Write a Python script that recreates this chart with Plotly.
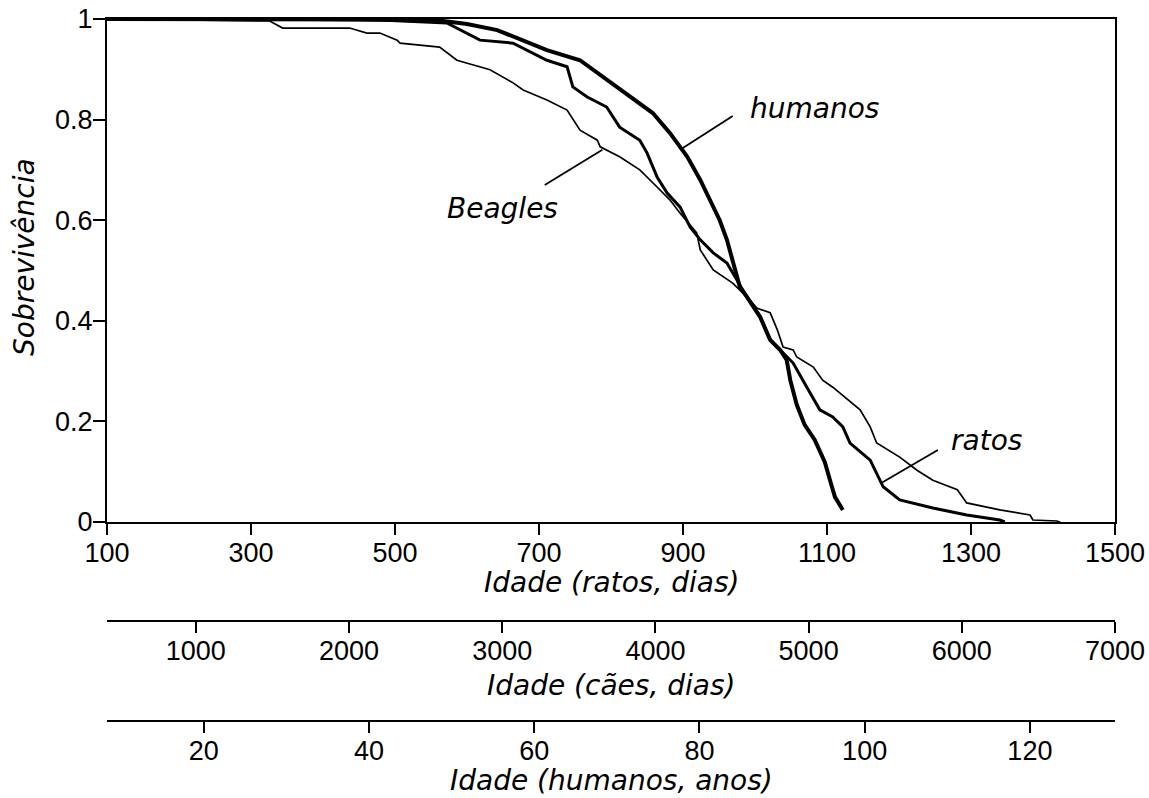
import plotly.graph_objects as go

# ---- data (rat-age days vs survival fraction) ----
hum_days = [100, 300, 450, 562, 600, 642, 711, 757, 794, 826, 858, 882, 906, 924, 942, 951, 961,
            972, 979, 989, 1007, 1021, 1035, 1044, 1049, 1058, 1069, 1083, 1097, 1106, 1111, 1122]
hum_surv = [1.0, 1.0, 0.999, 0.997, 0.99, 0.978, 0.938, 0.918, 0.879, 0.845, 0.813, 0.773, 0.726,
            0.680, 0.626, 0.600, 0.561, 0.501, 0.467, 0.447, 0.408, 0.362, 0.342, 0.322, 0.282,
            0.233, 0.193, 0.163, 0.119, 0.074, 0.050, 0.024]

rat_days = [100, 300, 479, 572, 618, 664, 711, 739, 747, 767, 794, 812, 840, 850, 864, 878, 896,
            910, 924, 942, 961, 975, 989, 1007, 1021, 1035, 1044, 1053, 1072, 1090, 1108, 1122,
            1132, 1160, 1178, 1201, 1247, 1294, 1340, 1347]
rat_surv = [1.0, 1.0, 0.998, 0.992, 0.958, 0.952, 0.918, 0.905, 0.865, 0.845, 0.825, 0.785, 0.759,
            0.734, 0.686, 0.654, 0.626, 0.586, 0.561, 0.535, 0.515, 0.481, 0.447, 0.408, 0.362,
            0.342, 0.328, 0.316, 0.268, 0.223, 0.209, 0.189, 0.157, 0.123, 0.070, 0.044, 0.028,
            0.014, 0.004, 0.0]

beagle_days = [100, 230, 326, 344, 437, 461, 479, 503, 507, 562, 586, 632, 664, 678, 711, 739, 757,
               781, 785, 812, 840, 864, 882, 896, 919, 924, 942, 969, 989, 1003, 1021, 1031, 1039,
               1053, 1058, 1081, 1094, 1108, 1146, 1160, 1169, 1201, 1225, 1247, 1281, 1294, 1340,
               1382, 1386, 1419, 1424]
beagle_surv = [1.0, 0.998, 0.996, 0.982, 0.982, 0.972, 0.972, 0.958, 0.952, 0.944, 0.918, 0.899,
               0.873, 0.859, 0.839, 0.819, 0.779, 0.759, 0.746, 0.726, 0.700, 0.666, 0.640, 0.614,
               0.575, 0.541, 0.501, 0.475, 0.447, 0.425, 0.416, 0.382, 0.348, 0.342, 0.328, 0.308,
               0.282, 0.268, 0.223, 0.189, 0.157, 0.129, 0.103, 0.083, 0.064, 0.038, 0.024, 0.014,
               0.004, 0.002, 0.0]

rat_ticks = [100, 300, 500, 700, 900, 1100, 1300, 1500]
dog_ticks = [1000, 2000, 3000, 4000, 5000, 6000, 7000]
human_ticks = [20, 40, 60, 80, 100, 120]
surv_ticks = [0, 0.2, 0.4, 0.6, 0.8, 1]
surv_labels = ["0", "0.2", "0.4", "0.6", "0.8", "1"]

# curve labels: text, text position, pointer start, pointer end (data coords)
labels = ["humanos", "Beagles", "ratos"]
label_pos = [(1083, 0.823), (649, 0.624), (1321, 0.163)]
pointer_from = [(969, 0.807), (708, 0.670), (1254, 0.143)]
pointer_to = [(896, 0.740), (788, 0.740), (1176, 0.078)]

TICKFONT = dict(family="Liberation Sans, Arial, sans-serif", size=27, color="black")
ITFONT = dict(family="DejaVu Sans, sans-serif", size=28, color="black", style="italic")

fig = go.Figure()
fig.add_trace(go.Scatter(x=beagle_days, y=beagle_surv, mode="lines",
                         line=dict(color="black", width=1.7), name="Beagles"))
fig.add_trace(go.Scatter(x=rat_days, y=rat_surv, mode="lines",
                         line=dict(color="black", width=3.0), name="ratos"))
fig.add_trace(go.Scatter(x=hum_days, y=hum_surv, mode="lines",
                         line=dict(color="black", width=4.0), name="humanos"))
# dummy traces so the extra age axes are drawn
fig.add_trace(go.Scatter(x=[], y=[], xaxis="x2", yaxis="y", showlegend=False, hoverinfo="skip"))
fig.add_trace(go.Scatter(x=[], y=[], xaxis="x3", yaxis="y", showlegend=False, hoverinfo="skip"))

W, H = 1149, 798
# reference pixel positions (screenshot coordinates)
left_px, right_px, top_px = 107, 1115, 19
y_axis_px, dog_px, hum_px = 522, 621, 721

ml = left_px
mr = W - right_px
mt = top_px
mb = H - hum_px
ph = H - mt - mb
pw = W - ml - mr


def py(p):
    return (hum_px - p) / ph


def px(p):
    return (p - left_px) / pw


axis_common = dict(showgrid=False, zeroline=False, showline=True, linecolor="black", linewidth=2,
                   ticks="outside", ticklen=11, tickwidth=2, tickcolor="black",
                   tickfont=TICKFONT, automargin=False, ticklabeloverflow="allow")

fig.update_layout(
    template="none",
    width=W, height=H,
    margin=dict(l=ml, r=mr, t=mt, b=mb),
    paper_bgcolor="white", plot_bgcolor="white",
    showlegend=False,
    xaxis=dict(range=[100, 1500], tickvals=rat_ticks, ticktext=[str(v) for v in rat_ticks],
               mirror=True, anchor="y", ticklabelstandoff=-5, **axis_common),
    xaxis2=dict(range=[420, 7000], tickvals=dog_ticks, ticktext=[str(v) for v in dog_ticks],
                overlaying="x", anchor="free", position=py(dog_px), side="bottom",
                ticklabelstandoff=-5, **axis_common),
    xaxis3=dict(range=[8.3, 130.3], tickvals=human_ticks, ticktext=[str(v) for v in human_ticks],
                overlaying="x", anchor="free", position=py(hum_px), side="bottom",
                ticklabelstandoff=-5, **axis_common),
    yaxis=dict(range=[0, 1], domain=[py(y_axis_px), 1], tickvals=surv_ticks, ticktext=surv_labels,
               mirror=True, ticklabelstandoff=-5, **{**axis_common, "ticklen": 12}),
)

annotations = [
    dict(text="Sobrevivência", xref="paper", yref="paper", x=px(24), y=py(257),
         xanchor="center", yanchor="middle", textangle=-90, showarrow=False, font=ITFONT),
    dict(text="Idade (ratos, dias)", xref="paper", yref="paper", x=0.5, y=py(582),
         xanchor="center", yanchor="middle", showarrow=False, font=ITFONT),
    dict(text="Idade (cães, dias)", xref="paper", yref="paper", x=0.5, y=py(685),
         xanchor="center", yanchor="middle", showarrow=False, font=ITFONT),
    dict(text="Idade (humanos, anos)", xref="paper", yref="paper", x=0.5, y=py(781),
         xanchor="center", yanchor="middle", showarrow=False, font=ITFONT),
]
for t, (lx, ly) in zip(labels, label_pos):
    annotations.append(dict(text=t, x=lx, y=ly, xref="x", yref="y", xanchor="center",
                            yanchor="middle", showarrow=False, font=ITFONT))
fig.update_layout(annotations=annotations)

for (x0, y0), (x1, y1) in zip(pointer_from, pointer_to):
    fig.add_shape(type="line", xref="x", yref="y", x0=x0, y0=y0, x1=x1, y1=y1,
                  line=dict(color="black", width=1.8))

# remove the default page margin so the figure sits at the page origin
fig.write_html("out.html", config={"displayModeBar": False},
               post_script="document.body.style.margin='0';document.body.style.overflow='hidden';")
